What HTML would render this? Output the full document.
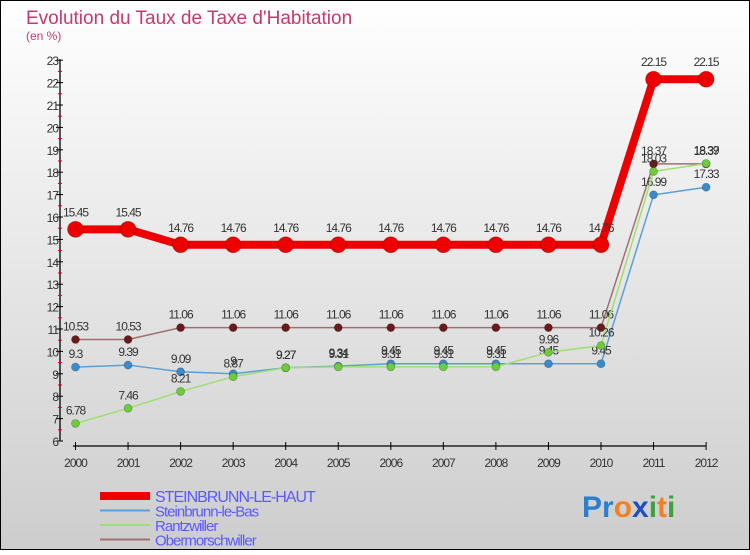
<!DOCTYPE html>
<html><head><meta charset="utf-8"><style>
body{margin:0;width:750px;height:550px;overflow:hidden;font-family:"Liberation Sans",sans-serif}
</style></head><body>
<svg id="c" width="750" height="550" xmlns="http://www.w3.org/2000/svg">
<defs><linearGradient id="bg" x1="0" y1="0" x2="0" y2="1"><stop offset="0" stop-color="#ffffff"/><stop offset="1" stop-color="#cdcdcd"/></linearGradient></defs>
<rect x="0.5" y="0.5" width="749" height="549" fill="url(#bg)" stroke="#000"/>
<text x="26" y="24" font-size="19" fill="#c8386e">Evolution du Taux de Taxe d'Habitation</text>
<text x="26" y="40" font-size="12" fill="#c8386e">(en %)</text>
<g id="axes"></g><g id="series"></g><g id="legend"></g>
<text x="582" y="517" font-size="30" font-weight="bold"><tspan fill="#2a7fd0">Pr</tspan><tspan fill="#f08020">o</tspan><tspan fill="#2050c0">x</tspan><tspan fill="#40a040">i</tspan><tspan fill="#f08020">t</tspan><tspan fill="#40a040">i</tspan></text>
</svg>
<script>
const years=[2000,2001,2002,2003,2004,2005,2006,2007,2008,2009,2010,2011,2012];
const yTicks=[6,7,8,9,10,11,12,13,14,15,16,17,18,19,20,21,22,23];
const steinbrunnHaut=[15.45,15.45,14.76,14.76,14.76,14.76,14.76,14.76,14.76,14.76,14.76,22.15,22.15];
const steinbrunnBas=[9.3,9.39,9.09,9.0,9.27,9.34,9.45,9.45,9.45,9.45,9.45,16.99,17.33];
const rantzwiller=[6.78,7.46,8.21,8.87,9.27,9.31,9.31,9.31,9.31,9.96,10.26,18.03,18.39];
const obermorschwiller=[10.53,10.53,11.06,11.06,11.06,11.06,11.06,11.06,11.06,11.06,11.06,18.37,18.37];
const seriesNames=["STEINBRUNN-LE-HAUT","Steinbrunn-le-Bas","Rantzwiller","Obermorschwiller"];
const NS="http://www.w3.org/2000/svg";
const X=i=>75.5+i*52.55;
const Y=v=>441-(v-6)*22.4;
function mk(tag,attrs,parent){const e=document.createElementNS(NS,tag);for(const k in attrs)e.setAttribute(k,attrs[k]);parent.appendChild(e);return e;}
const axes=document.getElementById('axes');
let a=mk('line',{x1:60,y1:Y(23)-1,x2:60,y2:Y(6),stroke:'#000','stroke-width':1.3},axes);


a=mk('line',{x1:73,y1:446,x2:706,y2:446,stroke:'#000','stroke-width':1.3},axes);


yTicks.forEach(v=>{
  mk('line',{x1:56,y1:Y(v),x2:63,y2:Y(v),stroke:'#000'},axes);
  if(v<23) mk('line',{x1:58,y1:Y(v+0.5),x2:62,y2:Y(v+0.5),stroke:'#e00000'},axes);
  const t=mk('text',{x:58,y:Y(v)+5,'font-size':12,'text-anchor':'end',fill:'#333','letter-spacing':'-1'},axes);
  t.textContent=v;
  
  
});
years.forEach((y,i)=>{
  mk('line',{x1:X(i),y1:442,x2:X(i),y2:450,stroke:'#000'},axes);
  const t=mk('text',{x:X(i),y:467,'font-size':12,'text-anchor':'middle',fill:'#333','letter-spacing':'-1'},axes);
  t.textContent=y;
  
  
});
const sg=document.getElementById('series');
const cfg=[[obermorschwiller,'#6a1a1a','#a07070',1.5,4,'series-obermorschwiller'],[steinbrunnBas,'#3b8acb','#5aa0d8',1.5,4,'series-steinbrunn-le-bas'],[rantzwiller,'#6ccc3a','#9ee070',1.5,4,'series-rantzwiller'],[steinbrunnHaut,'#ee0000','#ee0000',8,8,'series-steinbrunn-le-haut']];
cfg.forEach(([d,dot,line,w,r,name])=>{
  const g=mk('g',{},sg);
  
  
  const pl=mk('polyline',{points:d.map((v,i)=>X(i)+','+Y(v)).join(' '),fill:'none',stroke:line,'stroke-width':w,'stroke-linejoin':'round'},g);
  
  
  d.forEach((v,i)=>{
    const c=mk('circle',{cx:X(i),cy:Y(v),r:r,fill:dot,stroke:'rgba(0,0,0,0.25)','stroke-width':0.8},g);
    
    
    const t=mk('text',{x:X(i),y:Y(v)-(r+5),'font-size':12,'text-anchor':'middle',fill:'#333','letter-spacing':'-1'},g);
    t.textContent=String(v);
    
    
  });
});
const lg=document.getElementById('legend');
const lc=[['#ee0000',8],['#5aa0d8',2],['#9ee070',2],['#a07070',2]];
seriesNames.forEach((n,i)=>{
  const y=501+i*14.5;
  const g=mk('g',{},lg);
  
  
  mk('line',{x1:100,y1:y-5,x2:150,y2:y-5,stroke:lc[i][0],'stroke-width':lc[i][1]},g);
  const t=mk('text',{x:155,y:y+1,'font-size':i==0?16:15,fill:'#5a5aff','letter-spacing':'-1'},g);
  t.textContent=n;
});
</script>
</body></html>
